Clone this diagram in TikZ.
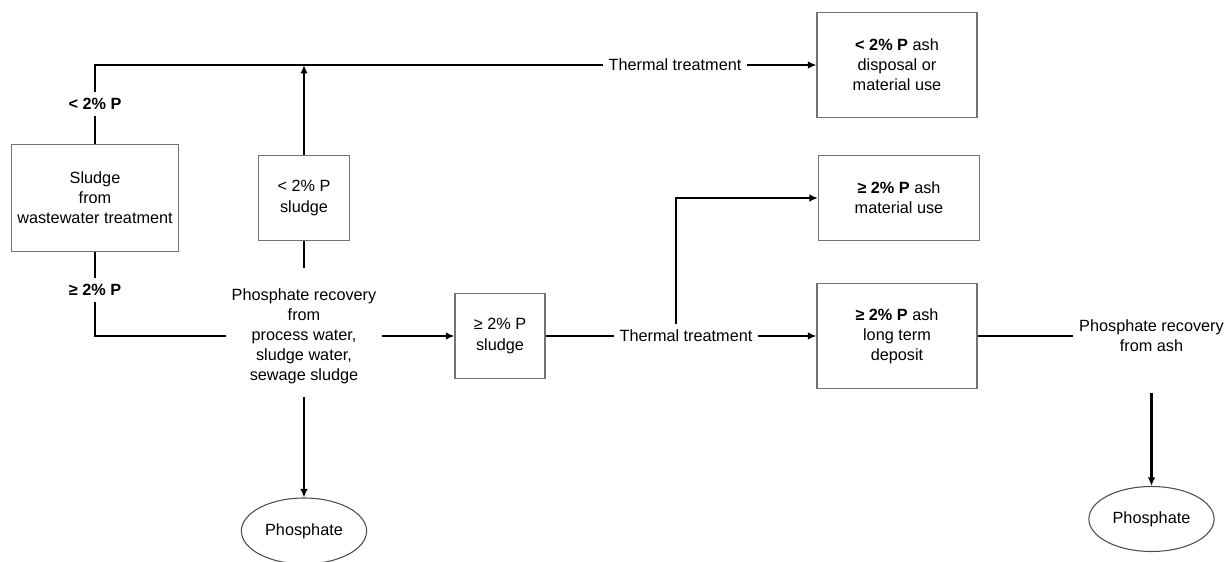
\documentclass[tikz,border=0pt]{standalone}
\usepackage{fontspec}
\setmainfont{Liberation Sans}
\usetikzlibrary{shapes.geometric,arrows.meta}
\begin{document}
\begin{tikzpicture}[
		box/.style={draw=black!55, line width=.6pt, align=center},
		txt/.style={align=center},
		flow/.style={line width=1.3pt, >={Latex[length=.17cm,width=.15cm]}}]
		\fontsize{9.25}{11.4}\selectfont
		\useasboundingbox (0,0) rectangle (24.48,-11.24);
		\node[box, minimum width=3.34cm, minimum height=2.14cm] (sludge) at (1.9,-3.96) {Sludge\\from\\wastewater treatment};
		\node[txt] (lo) at (1.9,-2.08) {\textbf{< 2\% P}};
		\node[txt] (hi) at (1.9,-5.8) {\textbf{≥ 2\% P}};
		\node[box, minimum width=1.82cm, minimum height=1.7cm] (losl) at (6.08,-3.96) {< 2\% P\\sludge};
		\node[txt] (prw) at (6.08,-6.72) {Phosphate recovery\\from\\process water,\\sludge water,\\sewage sludge};
		\node[box, minimum width=1.8cm, minimum height=1.7cm] (hisl) at (10,-6.72) {≥ 2\% P\\sludge};
		\node[txt] (tt1) at (13.5,-1.3) {Thermal treatment};
		\node[txt] (tt2) at (13.72,-6.72) {Thermal treatment};
		\node[box, minimum width=3.2cm, minimum height=2.1cm] (ash1) at (17.94,-1.3) {\textbf{< 2\% P} ash\\disposal or\\material use};
		\node[box, minimum width=3.22cm, minimum height=1.7cm] (ash2) at (17.98,-3.96) {\textbf{≥ 2\% P} ash\\material use};
		\node[box, minimum width=3.2cm, minimum height=2.1cm] (ash3) at (17.94,-6.72) {\textbf{≥ 2\% P} ash\\long term\\deposit};
		\node[txt] (pra) at (23.03,-6.72) {Phosphate recovery\\from ash};
		\node[draw=black!70, line width=.6pt, ellipse, minimum width=2.08cm, minimum height=1.32cm] (ph1) at (6.08,-10.62) {Phosphate};
		\node[draw=black!70, line width=.6pt, ellipse, minimum width=2.1cm, minimum height=1.3cm] (ph2) at (23.03,-10.38) {Phosphate};
		% low P path
		\draw[flow] (sludge) -- (lo);
		\draw[flow] (lo) |- (tt1);
		\draw[flow,->] (losl) -- (losl |- tt1);
		\draw[flow,->] (tt1) -- (ash1);
		% high P path
		\draw[flow] (sludge) -- (hi);
		\draw[flow] (hi) |- (prw);
		\draw[flow, shorten <=.3cm] (prw) -- (losl);
		\draw[flow,->, shorten <=.15cm] (prw) -- (ph1);
		\draw[flow,->] (prw) -- (hisl);
		\draw[flow] (hisl) -- (tt2);
		\draw[flow,->] (tt2) -- (ash3);
		\draw[flow,->] ([xshift=-.2cm]tt2.north) |- (ash2);
		\draw[flow] (ash3) -- (pra);
		\draw[flow,->, shorten <=.7cm] (pra) -- (ph2);
	\end{tikzpicture}
\end{document}
